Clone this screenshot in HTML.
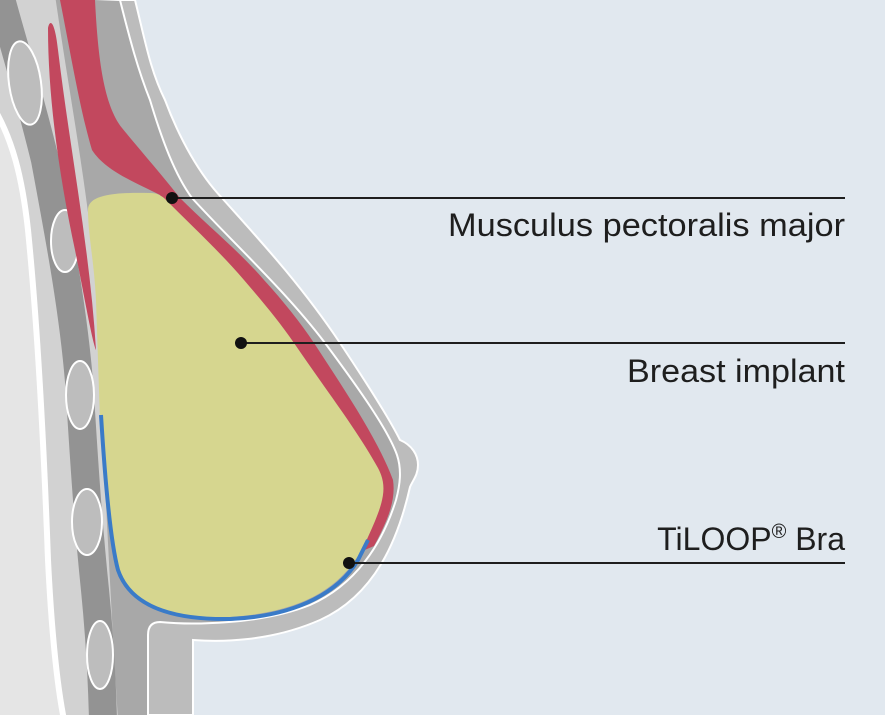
<!DOCTYPE html>
<html><head><meta charset="utf-8"><style>
html,body{margin:0;padding:0;background:#e1e8ef}
svg{display:block}
text{font-family:"Liberation Sans",sans-serif;fill:#1e1e1e;font-size:32px}
</style></head><body>
<svg width="885" height="715" viewBox="0 0 885 715" xmlns="http://www.w3.org/2000/svg">
<rect width="885" height="715" fill="#e1e8ef"/>
<!-- outer skin -->
<path d="M135,0 C145,40 150,70 165,100 C180,140 200,175 222,198 C255,235 300,283 340,343 C370,388 390,420 400,440 C412,445 418,455 418,465 C418,475 413,480 410,487 C398,540 375,595 320,620 C270,642 220,642 193,640 L193,715 L0,715 L0,0Z" fill="#bcbcbc" stroke="#fff" stroke-width="2"/>
<!-- fat layer -->
<path d="M120,0 C130,40 138,70 150,100 C162,140 175,175 192,198 C230,240 285,290 325,343 C360,390 388,430 397,455 C402,470 400,485 396,500 C382,545 355,585 310,605 C260,625 190,625 160,622 Q148,622 148,635 L148,720 L-5,720 L-5,-5Z" fill="#a8a8a8" stroke="#fff" stroke-width="2"/>
<!-- chest wall light band -->
<path d="M-5,-5 L55,-5 C70,100 90,200 97,300 C102,420 108,560 118,720 L-5,720Z" fill="#d2d2d2"/>
<!-- rib band -->
<path d="M0,-5 C12,40 28,90 45,160 C60,240 75,320 80,395 C84,460 88,522 95,590 C100,640 102,680 103,720" fill="none" stroke="#939393" stroke-width="28"/>
<!-- leftmost light region -->
<path d="M-5,110 C12,140 22,175 28,230 C38,330 44,450 48,560 C52,640 58,690 64,720 L-5,720Z" fill="#e5e5e5" stroke="#fff" stroke-width="6"/>
<!-- ovals -->
<g fill="#bdbdbd" stroke="#fff" stroke-width="2">
<ellipse cx="25" cy="83" rx="16" ry="42" transform="rotate(-8 25 83)"/>
<ellipse cx="65" cy="241" rx="14" ry="31"/>
<ellipse cx="80" cy="395" rx="14" ry="34"/>
<ellipse cx="87" cy="522" rx="15" ry="33"/>
<ellipse cx="100" cy="655" rx="13" ry="34"/>
</g>
<!-- pectoralis minor -->
<path d="M48,28 C50,18 55,22 58,50 C70,150 90,250 96,350 C92,340 85,300 75,250 C60,180 48,100 48,28Z" fill="#c2485e"/>
<!-- pectoralis major -->
<path d="M60,0 L95,0 C98,60 104,105 122,128 C140,150 162,175 180,198 C208,226 240,252 264,280 C284,302 300,322 314,343 C348,395 378,440 393,480 C396,500 388,520 374,546 L360,552 L300,450 L160,195 C130,180 105,170 92,150 C80,110 70,50 60,0Z" fill="#c2485e"/>
<!-- implant -->
<path d="M88,210 C88,196 110,192 150,193 C157,193 160,195 164,198 C192,226 220,252 244,280 C262,301 279,321 294,343 C326,390 357,430 378,468 C388,487 384,502 368,537 C345,590 300,612 230,617 C170,620 130,605 120,575 C110,540 105,480 100,420 L96,300 C94,260 88,235 88,210Z" fill="#d6d68f"/>
<!-- blue TiLOOP line -->
<path d="M101,415 C105,480 110,540 118,570 C130,605 170,620 230,619 C300,616 340,590 358,560 L368,540" fill="none" stroke="#3a7bc8" stroke-width="4"/>
<!-- leader lines -->
<g stroke="#1e1e1e" stroke-width="2">
<line x1="172" y1="198" x2="845" y2="198"/>
<line x1="240" y1="343" x2="845" y2="343"/>
<line x1="348" y1="563" x2="845" y2="563"/>
</g>
<g fill="#111">
<circle cx="172" cy="198" r="6"/>
<circle cx="241" cy="343" r="6"/>
<circle cx="349" cy="563" r="6"/>
</g>
<text x="845" y="236" text-anchor="end" textLength="397" lengthAdjust="spacingAndGlyphs">Musculus pectoralis major</text>
<text x="845" y="382" text-anchor="end" textLength="218" lengthAdjust="spacingAndGlyphs">Breast implant</text>
<text x="845" y="550" text-anchor="end">TiLOOP<tspan font-size="20" dy="-12">®</tspan><tspan dy="12"> Bra</tspan></text>
</svg>
</body></html>
